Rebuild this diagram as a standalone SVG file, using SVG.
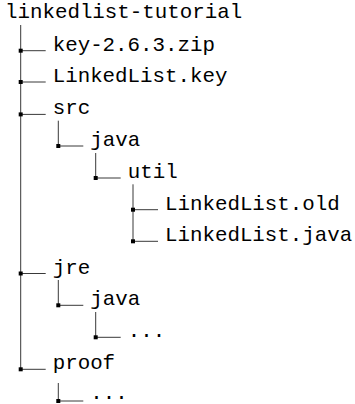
<svg xmlns="http://www.w3.org/2000/svg" width="355" height="404" viewBox="0 0 355 404">
<style>
text{font-family:"Liberation Mono","Courier New",monospace;font-size:20.8px;fill:#000}
.ln{stroke:#222;stroke-width:0.9;fill:none}
.sq{fill:#000}
</style>
<rect width="355" height="404" fill="#fff"/>
<g id="connectors">
<path class="ln" d="M20.7 25V369.3M58.3 120.7V146M95.7 153V178M133 184.3V241.3M58.3 280V305.3M95.7 312V337.3M58.3 383V401"/>
<path class="ln" d="M20.7 50.7h25M20.7 82h25M20.7 114.4h25M58.3 146h25M95.7 178h25M133 209.7h25M133 241.3h25M20.7 273.5h25M58.3 305.3h25M95.7 337.3h25M20.7 369.3h25M58.3 401h25"/>
<g class="sq">
<rect x="18.7" y="48.7" width="4" height="4"/>
<rect x="18.7" y="80" width="4" height="4"/>
<rect x="18.7" y="112.4" width="4" height="4"/>
<rect x="56.3" y="144" width="4" height="4"/>
<rect x="93.7" y="176" width="4" height="4"/>
<rect x="131" y="207.7" width="4" height="4"/>
<rect x="131" y="239.3" width="4" height="4"/>
<rect x="18.7" y="271.5" width="4" height="4"/>
<rect x="56.3" y="303.3" width="4" height="4"/>
<rect x="93.7" y="335.3" width="4" height="4"/>
<rect x="18.7" y="367.3" width="4" height="4"/>
<rect x="56.3" y="399" width="4" height="4"/>
</g>
</g>
<g id="root"><text x="5" y="17.5">linkedlist-tutorial</text></g>
<g id="key-zip"><text x="52.7" y="50.7">key-2.6.3.zip</text></g>
<g id="linkedlist-key"><text x="52.7" y="82">LinkedList.key</text></g>
<g id="src"><text x="52.7" y="114.4">src</text></g>
<g id="src-java"><text x="90.3" y="146">java</text></g>
<g id="util"><text x="127.7" y="178">util</text></g>
<g id="linkedlist-old"><text x="165" y="209.7">LinkedList.old</text></g>
<g id="linkedlist-java"><text x="165" y="241.3">LinkedList.java</text></g>
<g id="jre"><text x="52.7" y="273.5">jre</text></g>
<g id="jre-java"><text x="90.3" y="305.3">java</text></g>
<g id="jre-java-more"><text x="127.7" y="336.5">...</text></g>
<g id="proof"><text x="52.7" y="369.3">proof</text></g>
<g id="proof-more"><text x="90.3" y="399">...</text></g>
</svg>
